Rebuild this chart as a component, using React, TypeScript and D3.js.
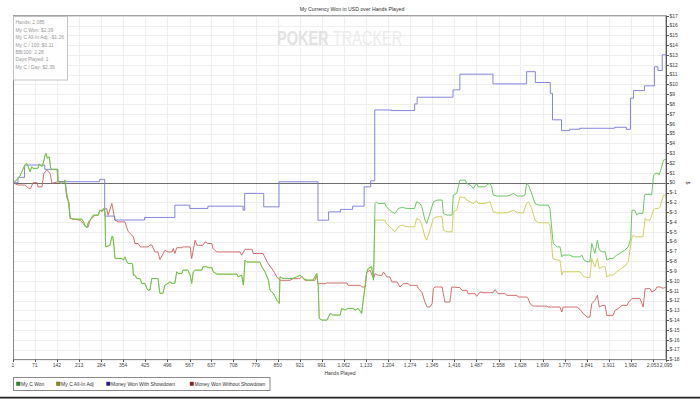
import React from "react";
import * as d3 from "d3";

type P = [number, number];

const chartTitle = "My Currency Won in USD over Hands Played";
const xTitle = "Hands Played";
const yTitle = "$";

const xTickHands = [1, 71, 142, 213, 284, 354, 425, 496, 567, 637, 708, 779, 850, 921, 991, 1062, 1133, 1204, 1274, 1345, 1416, 1487, 1558, 1628, 1699, 1770, 1841, 1911, 1982, 2053, 2095];
const xTickLabels = ["1", "71", "142", "213", "284", "354", "425", "496", "567", "637", "708", "779", "850", "921", "991", "1,062", "1,133", "1,204", "1,274", "1,345", "1,416", "1,487", "1,558", "1,628", "1,699", "1,770", "1,841", "1,911", "1,982", "2,053", "2,095"];
const yTicks = d3.range(-18, 18);

const statLines = ["Hands: 2,085", "My C Won: $2.39", "My C All-In Adj: -$1.26", "My C / 100: $0.11", "BB/100: 2.28", "Days Played: 1", "My C / Day: $2.39"];

const legendNames = ["My C Won", "My C All-In Adj", "Money Won With Showdown", "Money Won Without Showdown"];
const legendSwatch = ["#1f8f1f", "#8f8f1f", "#1f1f8f", "#8f1f1f"];
const lineColors = ["#5cc256", "#cdc950", "#7878da", "#cf6060"];

// Money Won With Showdown (step changes)
const withShowdown: P[] = [
  [1, 0], [17, 0.54], [38, 1.8], [103, 1.36], [145, 0.1], [279, 0.34], [295, -3.4], [327, -3.8], [423, -3.54], [520, -2.29],
  [568, -2.62], [626, -2.39], [739, -2.8], [744, -1.09], [805, -2.46], [854, 0.09], [979, -3.82], [1013, -2.97], [1051, -2.72],
  [1090, -2.39], [1127, -0.42], [1148, 0.19], [1161, 7.4], [1215, 7.34], [1289, 8.02], [1297, 8.7], [1412, 9.45], [1434, 11.05],
  [1540, 10.06], [1648, 11.3], [1676, 10.2], [1724, 9.1], [1731, 6.4], [1760, 5.3], [1786, 5.44], [1818, 5.54], [1930, 5.64],
  [1968, 5.44], [1981, 8.6], [1991, 9.38], [2026, 9.86], [2058, 11.8], [2069, 11.42], [2083, 13.02], [2095, 13.02],
];

// Money Won Without Showdown
const withoutShowdown: P[] = [
  [1, 0], [17, -0.24], [39, -0.24], [52, -0.58], [58, -0.58], [65, 0], [78, 0], [81, -0.42], [94, -0.42], [100, 0.95], [109, 1.29],
  [120, 0.95], [126, -0.07], [145, 0.09], [168, 0.09], [173, -1.44], [181, -2.1], [184, -3.64], [216, -3.82], [226, -4.15],
  [235, -4.5], [242, -4.5], [248, -3.82], [264, -3.31], [274, -3.31], [280, -2.8], [290, -2.8], [301, -2.62], [306, -3.31],
  [318, -2.11], [328, -3.82], [338, -3.99], [360, -3.99], [366, -4.6], [370, -4.94], [387, -5.52], [392, -6.19], [402, -6.19],
  [410, -6.54], [434, -6.54], [440, -6.34], [446, -6.34], [456, -7.05], [466, -7.05], [472, -7.83], [483, -7.21], [488, -6.88],
  [498, -7.05], [511, -7.05], [515, -6.7], [520, -7.21], [526, -6.62], [543, -6.62], [546, -6.54], [569, -6.54], [574, -7.72],
  [585, -5.86], [591, -6.37], [610, -6.37], [617, -6.03], [626, -6.19], [639, -6.19], [642, -6.7], [655, -7.05], [729, -7.05],
  [734, -7.39], [745, -6.78], [768, -6.78], [771, -7.21], [803, -7.21], [808, -7.56], [819, -8.23], [835, -8.92], [847, -9.6],
  [857, -9.94], [889, -9.94], [899, -9.77], [921, -9.77], [927, -9.53], [937, -9.94], [969, -9.94], [975, -9.43], [979, -10.28],
  [1002, -10.28], [1008, -10.21], [1072, -10.21], [1075, -10.45], [1114, -10.45], [1120, -10.62], [1130, -10.62], [1135, -9.12],
  [1146, -8.92], [1157, -9.77], [1162, -9.26], [1172, -9.43], [1184, -9.43], [1189, -9.09], [1200, -9.6], [1210, -9.6],
  [1216, -10.11], [1233, -10.11], [1242, -10.62], [1252, -10.28], [1268, -10.28], [1274, -10.45], [1297, -10.45], [1301, -10.79],
  [1312, -11.13], [1322, -12.15], [1329, -12.66], [1338, -12.66], [1345, -12.32], [1349, -10.79], [1354, -10.62], [1377, -10.62],
  [1381, -11.3], [1386, -12.15], [1402, -12.15], [1408, -10.62], [1434, -10.68], [1441, -10.96], [1457, -10.96], [1460, -11.3],
  [1483, -11.3], [1488, -11.57], [1499, -11.13], [1508, -11.2], [1540, -11.2], [1547, -10.89], [1556, -11.3], [1579, -11.3],
  [1585, -11.47], [1617, -11.47], [1621, -11.64], [1649, -11.64], [1653, -11.8], [1659, -12.32], [1669, -12.56], [1713, -12.56],
  [1717, -12.66], [1755, -12.66], [1761, -13.17], [1765, -12.66], [1810, -12.66], [1820, -12.93], [1830, -13.34], [1842, -13.68],
  [1851, -13.68], [1857, -12.32], [1867, -11.98], [1875, -11.47], [1881, -12.66], [1890, -12.49], [1900, -12.49], [1905, -13.51],
  [1925, -13.51], [1932, -13.0], [1941, -12.83], [1954, -12.49], [1970, -12.49], [1975, -12.15], [1986, -11.8], [2012, -11.8],
  [2022, -12.66], [2028, -10.79], [2044, -10.79], [2049, -11.13], [2060, -10.96], [2066, -10.62], [2076, -10.62], [2085, -10.75],
  [2095, -10.63],
];

// My C Won
const won: P[] = [
  [1, 0], [13, 0.27], [23, 0.67], [39, 1.8], [45, 1.97], [50, 1.62], [56, 1.11], [61, 1.62], [65, 1.46], [81, 1.46], [85, 1.9],
  [93, 1.62], [98, 1.97], [104, 2.82], [107, 2.99], [111, 2.48], [117, 2.64], [122, 1.46], [126, 1.36], [142, 1.36], [146, 0.09],
  [157, -0.07], [168, 0.27], [173, -1.09], [178, -1.78], [184, -3.48], [190, -3.71], [222, -3.71], [227, -3.99], [232, -4.43],
  [239, -4.56], [243, -3.99], [248, -3.82], [258, -3.31], [274, -3.31], [280, -2.8], [286, -2.97], [291, -2.62], [296, -2.97],
  [298, -6.54], [312, -6.36], [318, -5.49], [321, -5.49], [325, -6.53], [328, -7.71], [350, -7.71], [355, -7.88], [360, -7.55],
  [366, -8.05], [370, -8.22], [383, -8.22], [385, -8.39], [387, -9.41], [392, -9.41], [398, -9.75], [408, -9.75], [414, -10.25],
  [424, -10.25], [430, -10.76], [434, -10.94], [440, -10.94], [446, -9.75], [466, -9.75], [472, -11.27], [482, -11.27],
  [488, -10.43], [498, -10.25], [504, -10.09], [511, -10.25], [520, -10.25], [526, -9.07], [530, -9.24], [543, -9.24],
  [546, -8.9], [562, -8.9], [569, -9.41], [574, -10.25], [579, -9.07], [585, -8.9], [607, -8.9], [610, -8.56], [623, -8.56],
  [626, -8.65], [639, -8.65], [643, -9.07], [655, -9.31], [719, -9.31], [723, -9.58], [734, -9.41], [740, -10.43], [745, -7.88],
  [751, -8.08], [793, -8.08], [799, -8.56], [809, -9.07], [820, -9.92], [825, -10.94], [836, -11.27], [847, -11.96],
  [855, -12.29], [857, -9.58], [867, -9.75], [899, -9.75], [911, -9.58], [921, -9.41], [932, -9.75], [944, -9.92], [963, -9.92],
  [975, -9.24], [980, -10.6], [983, -13.82], [992, -13.99], [1008, -13.99], [1018, -13.31], [1027, -13.48], [1050, -13.48],
  [1055, -12.8], [1066, -12.97], [1075, -12.8], [1091, -12.8], [1098, -12.97], [1108, -12.8], [1119, -13.31], [1124, -11.96],
  [1130, -10.6], [1135, -9.24], [1140, -8.73], [1151, -8.56], [1157, -9.92], [1162, -2.11], [1167, -1.95], [1172, -2.11],
  [1194, -2.11], [1198, -2.45], [1215, -2.96], [1226, -3.13], [1237, -2.62], [1248, -2.52], [1265, -2.62], [1289, -2.62],
  [1295, -1.95], [1306, -2.11], [1312, -2.45], [1322, -3.81], [1328, -4.14], [1338, -3.13], [1349, -1.95], [1361, -1.77],
  [1377, -1.77], [1381, -3.13], [1393, -3.3], [1409, -3.3], [1413, -1.26], [1424, -1.09], [1434, 0.26], [1451, 0.26],
  [1456, -0.07], [1467, -0.24], [1477, -0.58], [1488, -0.07], [1492, -0.42], [1515, -0.42], [1520, -0.24], [1531, -0.07],
  [1536, -0.42], [1541, -1.26], [1553, -1.36], [1585, -1.36], [1595, -1.26], [1606, -1.09], [1618, -1.36], [1637, -1.36],
  [1643, -1.26], [1648, -0.07], [1654, -0.24], [1664, -1.09], [1675, -2.11], [1685, -2.28], [1717, -2.28], [1723, -2.62],
  [1732, -5.85], [1734, -6.18], [1746, -6.53], [1755, -6.53], [1761, -7.55], [1765, -7.37], [1787, -7.37], [1797, -7.55],
  [1819, -7.55], [1825, -7.37], [1832, -7.88], [1842, -8.05], [1851, -8.05], [1857, -6.18], [1862, -6.69], [1867, -7.2],
  [1875, -5.85], [1881, -6.86], [1890, -7.04], [1900, -7.04], [1905, -7.88], [1915, -7.71], [1925, -7.71], [1937, -7.37],
  [1947, -7.2], [1963, -6.86], [1974, -6.53], [1982, -5.67], [1985, -3.3], [1986, -2.8], [1995, -2.8], [2001, -3.3],
  [2005, -3.13], [2021, -3.13], [2026, -1.26], [2028, -1.19], [2044, -1.19], [2049, -1.26], [2055, 0.77], [2060, 0.95],
  [2070, 0.95], [2073, 0.77], [2078, 1.28], [2087, 2.3], [2095, 2.39],
];

// My C All-In Adj: identical to My C Won up to hand 1157, then this part
const allInAdjTail: P[] = [
  [1162, -3.81], [1172, -3.81], [1194, -3.81], [1198, -4.14], [1215, -4.65], [1226, -5.0], [1237, -4.49], [1248, -4.32],
  [1265, -4.49], [1289, -4.49], [1295, -3.64], [1306, -3.81], [1312, -4.32], [1322, -5.51], [1328, -5.85], [1338, -4.83],
  [1349, -3.64], [1361, -3.47], [1377, -3.47], [1381, -4.83], [1393, -5.0], [1409, -5.0], [1413, -2.96], [1424, -2.79],
  [1434, -1.44], [1441, -1.5], [1451, -1.5], [1456, -1.77], [1467, -1.95], [1477, -2.11], [1488, -1.84], [1492, -2.11],
  [1515, -2.11], [1531, -1.95], [1541, -2.96], [1553, -3.07], [1585, -3.07], [1606, -2.79], [1618, -3.07], [1637, -3.07],
  [1648, -2.11], [1654, -1.95], [1664, -2.62], [1675, -3.81], [1685, -4.08], [1717, -4.08], [1723, -4.32], [1732, -7.71],
  [1746, -7.88], [1755, -7.88], [1761, -9.41], [1765, -9.07], [1819, -9.07], [1832, -9.58], [1842, -9.64], [1851, -9.64],
  [1857, -7.71], [1867, -8.56], [1875, -7.71], [1881, -8.73], [1890, -8.56], [1900, -8.56], [1905, -9.58], [1915, -9.41],
  [1925, -9.41], [1937, -9.07], [1947, -8.83], [1963, -8.49], [1974, -8.05], [1985, -5.67], [1990, -5.34], [1997, -5.51],
  [2021, -5.51], [2028, -3.64], [2034, -3.81], [2044, -3.81], [2055, -2.79], [2060, -2.62], [2070, -2.62], [2076, -2.45],
  [2087, -1.26], [2095, -1.26],
];

const allInAdj: P[] = [...won.filter((d) => d[0] <= 1157), ...allInAdjTail];

const L = 13, R = 666, T = 15.7, B = 359.5;
const x = d3.scaleLinear().domain([1, 2095]).range([L, R]);
const y = d3.scaleLinear().domain([-18, 17]).range([B, T]);

const FONT = "'Liberation Sans', Arial, sans-serif";

export default function App() {
  const lin = d3.line<P>().x((d) => x(d[0])).y((d) => y(d[1]));
  const step = d3.line<P>().x((d) => x(d[0])).y((d) => y(d[1])).curve(d3.curveStepAfter);

  const legendX = [16.5, 56.5, 106.5, 190];

  return (
    <svg width={700} height={399} style={{ position: "absolute", left: 0, top: 0, background: "#fff" }} fontFamily={FONT}>
      <rect x={0} y={0} width={700} height={399} fill="#fff" />
      <text x={352} y={11} fontSize={5.2} textAnchor="middle" fill="#333">{chartTitle}</text>

      {/* grid */}
      {yTicks.map((v) => (
        <line key={"gy" + v} x1={L} x2={R} y1={Math.round(y(v)) + 0.5} y2={Math.round(y(v)) + 0.5} stroke="#efefef" strokeWidth={1} />
      ))}
      {xTickHands.map((h) => (
        <line key={"gx" + h} x1={Math.round(x(h)) + 0.5} x2={Math.round(x(h)) + 0.5} y1={T} y2={B} stroke="#efefef" strokeWidth={1} />
      ))}

      {/* watermark */}
      <text transform="translate(277,45) scale(1,1.4)" x={0} y={0} fontSize={14.5} fontWeight="bold" fill="#e2e2e2">POKER</text>
      <text transform="translate(333,45) scale(1,1.4)" x={0} y={0} fontSize={14.5} fill="#ececec">TRACKER</text>

      {/* zero line */}
      <line x1={L} x2={R} y1={Math.round(y(0)) + 0.5} y2={Math.round(y(0)) + 0.5} stroke="#6e6e6e" strokeWidth={1} />

      {/* series */}
      <path d={lin(withoutShowdown) || ""} fill="none" stroke={lineColors[3]} strokeWidth={0.9} />
      <path d={step(withShowdown) || ""} fill="none" stroke={lineColors[2]} strokeWidth={0.9} />
      <path d={lin(allInAdj) || ""} fill="none" stroke={lineColors[1]} strokeWidth={0.9} />
      <path d={lin(won) || ""} fill="none" stroke={lineColors[0]} strokeWidth={0.9} />

      {/* plot frame */}
      <rect x={L + 0.5} y={T} width={R - L - 0.5} height={B - T} fill="none" stroke="#8a8a8a" strokeWidth={1} />
      <line x1={R + 0.5} x2={R + 0.5} y1={T} y2={B} stroke="#555" strokeWidth={1} />

      {/* right axis */}
      {yTicks.map((v) => (
        <g key={"ty" + v}>
          <line x1={R} x2={R + 3} y1={Math.round(y(v)) + 0.5} y2={Math.round(y(v)) + 0.5} stroke="#555" />
          <text x={R + 3.5} y={y(v) + 1.8} fontSize={5} fill="#444">{"$" + v}</text>
        </g>
      ))}
      <text transform={`translate(686,183) rotate(90)`} fontSize={5} textAnchor="middle" fill="#333">{yTitle}</text>

      {/* bottom axis */}
      {xTickHands.map((h, i) => (
        <g key={"tx" + h}>
          <line x1={Math.round(x(h)) + 0.5} x2={Math.round(x(h)) + 0.5} y1={B} y2={B + 2.5} stroke="#555" />
          <text x={x(h)} y={366.5} fontSize={5} textAnchor="middle" fill="#444">{xTickLabels[i]}</text>
        </g>
      ))}
      <text x={340} y={375} fontSize={5} textAnchor="middle" fill="#333">{xTitle}</text>

      {/* stats box */}
      <rect x={13.5} y={16.5} width={54} height={63.5} fill="#fff" stroke="#c4c4c4" strokeWidth={1} />
      {statLines.map((s, i) => (
        <text key={s} x={15.5} y={24.2 + i * 7.45} fontSize={4.9} fill="#999">{s}</text>
      ))}

      {/* legend */}
      <rect x={13.5} y={377.5} width={256.5} height={13} fill="#fff" stroke="#8a8a8a" strokeWidth={1} />
      {legendNames.map((n, i) => (
        <g key={n}>
          <rect x={legendX[i]} y={382} width={3.6} height={3.6} fill={legendSwatch[i]} stroke="#444" strokeWidth={0.4} />
          <text x={legendX[i] + 4.6} y={385.8} fontSize={5} fill="#333">{n}</text>
        </g>
      ))}

      <line x1={0} x2={700} y1={397.6} y2={397.6} stroke="#222" strokeWidth={1.6} />
    </svg>
  );
}
